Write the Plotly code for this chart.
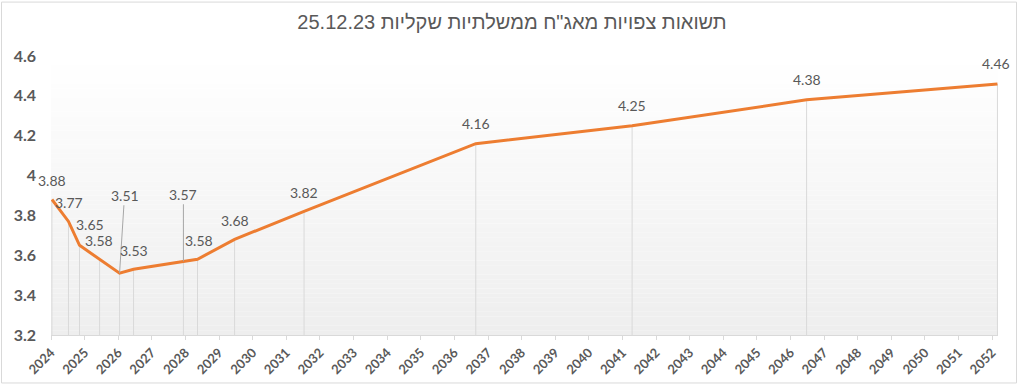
import plotly.graph_objects as go

# ---- data ----
title_text = '\u202bתשואות צפויות מאג"ח ממשלתיות שקליות 25.12.23\u202c'
maturity_dates = ["2024-01-11", "2024-07-09", "2024-11-06", "2025-06-12", "2026-01-15",
                  "2026-06-16", "2027-12-10", "2028-05-11", "2029-06-18", "2031-07-13",
                  "2036-08-21", "2041-04-16", "2046-06-25", "2052-02-28"]
yields = [3.88, 3.77, 3.65, 3.58, 3.51, 3.53, 3.57, 3.58, 3.68, 3.82, 4.16, 4.25, 4.38, 4.46]
year_ticks = list(range(2024, 2053))
y_ticks = [3.2, 3.4, 3.6, 3.8, 4.0, 4.2, 4.4, 4.6]

# ---- style ----
W, H = 1024, 389
ML, MR, MT, MB = 51, 26, 56, 51
PW = W - ML - MR
PH = H - MT - MB
LINE_COLOR = "#ED7D31"
TEXT_COLOR = "#595959"
GRID_COLOR = "#d9d9d9"
y_min, y_max = 3.2, 4.6

# label placement: (xshift, yshift) for plain labels, or ("arrow", ax, ay) for leader lines
label_style = {
    0: (0, 19), 1: (1, 19), 2: (10, 21), 3: (-1, 19), 4: ("arrow", 5, -78),
    5: (0, 19), 6: ("arrow", 0, -67), 7: (1, 19), 8: (0, 19), 9: (0, 19),
    10: (0, 20), 11: (0, 20), 12: (0, 20), 13: (-1, 20),
}

fig = go.Figure()

# drop lines (via error bars down to the axis floor)
fig.add_trace(go.Scatter(
    x=maturity_dates, y=yields, mode="markers",
    marker=dict(size=1, color="rgba(0,0,0,0)"),
    error_y=dict(type="data", symmetric=False,
                 array=[0] * len(yields),
                 arrayminus=[v - y_min for v in yields],
                 color=GRID_COLOR, thickness=1, width=0),
    hoverinfo="skip", showlegend=False,
))

fig.add_trace(go.Scatter(
    x=maturity_dates, y=yields, mode="lines",
    line=dict(color=LINE_COLOR, width=3),
    showlegend=False,
))

annotations = []
for i, (d, v) in enumerate(zip(maturity_dates, yields)):
    st = label_style[i]
    base = dict(x=d, y=v, text=f"{v:.2f}",
                font=dict(family="Lato, Liberation Sans, sans-serif", size=14, color=TEXT_COLOR))
    if st[0] == "arrow":
        base.update(showarrow=True, ax=st[1], ay=st[2], arrowhead=0,
                    arrowwidth=1, arrowcolor="#a6a6a6", standoff=0)
    else:
        base.update(showarrow=False, xshift=st[0], yshift=st[1])
    annotations.append(base)

# gradient plot background
shapes = []
n_bands = 60
for k in range(n_bands):
    t = k / (n_bands - 1)
    c = int(round(255 - (255 - 238) * (1 - t)))
    shapes.append(dict(type="rect", xref="paper", yref="paper",
                       x0=0, x1=1, y0=k / n_bands, y1=(k + 1) / n_bands,
                       fillcolor=f"rgb({c},{c},{c})", line=dict(width=0), layer="below"))
# outer frame
shapes.append(dict(type="rect", xref="paper", yref="paper",
                   x0=-(ML - 1.5) / PW, x1=1 + (MR - 7.5) / PW,
                   y0=-(MB - 2.5) / PH, y1=1 + (MT - 1.5) / PH,
                   line=dict(color="#d9d9d9", width=1), fillcolor="rgba(0,0,0,0)", layer="above"))

fig.update_layout(
    width=W, height=H,
    margin=dict(l=ML, r=MR, t=MT, b=MB),
    paper_bgcolor="white", plot_bgcolor="white",
    title=dict(text=title_text, x=0.5, xref="container", xanchor="center",
               y=1 - 22 / H, yanchor="middle",
               font=dict(family="Liberation Sans, sans-serif",
                         size=20, color=TEXT_COLOR)),
    annotations=annotations,
    shapes=shapes,
    xaxis=dict(
        type="date",
        range=["2024-01-01", "2052-03-05"],
        tickvals=[f"{y}-01-01" for y in year_ticks],
        ticktext=[str(y) for y in year_ticks],
        tickangle=-45,
        tickfont=dict(family="Lato, Liberation Sans, sans-serif", size=13, color=TEXT_COLOR, weight="bold"),
        showgrid=False, zeroline=False,
        showline=True, linecolor=GRID_COLOR, linewidth=1,
        ticks="outside", ticklen=4, tickcolor=GRID_COLOR,
    ),
    yaxis=dict(
        range=[y_min, y_max],
        tickvals=y_ticks,
        ticktext=[f"{v:g}" for v in y_ticks],
        tickfont=dict(family="Lato, Liberation Sans, sans-serif", size=16, color=TEXT_COLOR, weight="bold"),
        showgrid=False, zeroline=False, showline=False,
        ticklabelstandoff=14,
    ),
)

fig.write_html("out.html", config={"displayModeBar": False},
               post_script="document.body.style.margin='0';")
